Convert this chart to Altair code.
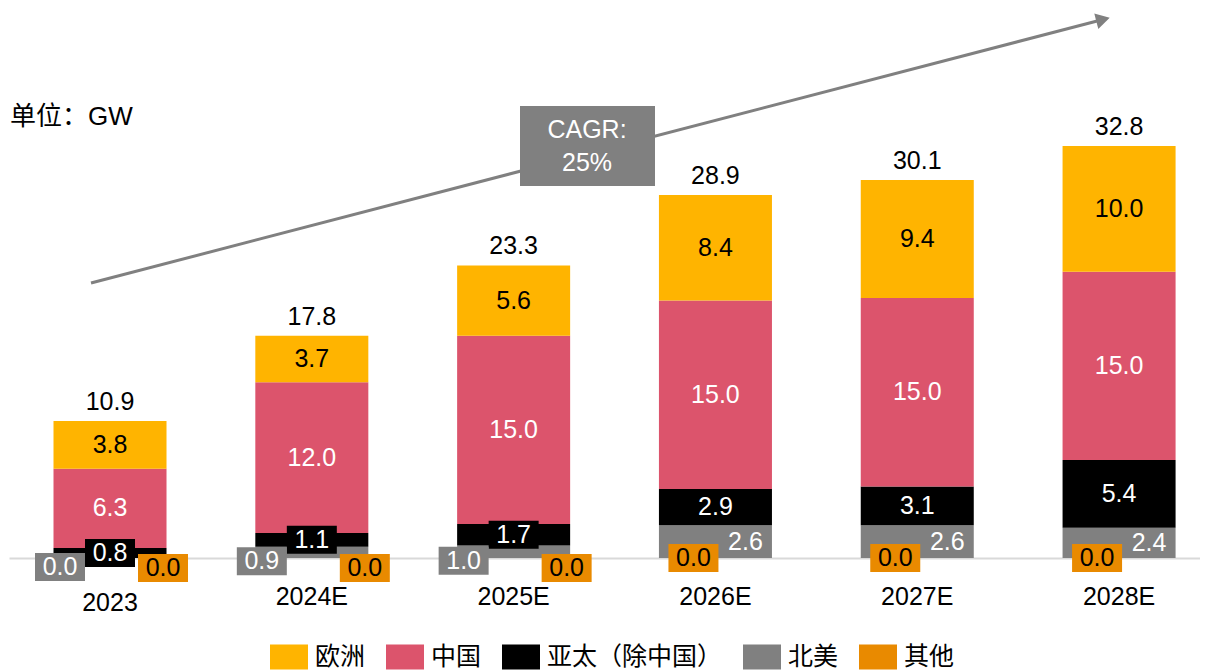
import altair as alt
import pandas as pd

# ---------------- data ----------------
years = ["2023", "2024E", "2025E", "2026E", "2027E", "2028E"]
legend_order = ["欧洲", "中国", "亚太（除中国）", "北美", "其他"]
colors = ["#FFB400", "#DC546C", "#000000", "#808080", "#E98A00"]

europe = [3.8, 3.7, 5.6, 8.4, 9.4, 10.0]
china = [6.3, 12.0, 15.0, 15.0, 15.0, 15.0]
apac = [0.8, 1.1, 1.7, 2.9, 3.1, 5.4]
north_america = [0.0, 0.9, 1.0, 2.6, 2.6, 2.4]
others = [0.0, 0.0, 0.0, 0.0, 0.0, 0.0]
totals = [10.9, 17.8, 23.3, 28.9, 30.1, 32.8]

unit_text = "单位：GW"
cagr_lines = ["CAGR:", "25%"]

# stacking order bottom -> top
stack = [("其他", others), ("北美", north_america), ("亚太（除中国）", apac),
         ("中国", china), ("欧洲", europe)]
rows = []
tops = []
for i, yr in enumerate(years):
    base = 0.0
    for name, vals in stack:
        v = vals[i]
        rows.append(dict(i=i, year=yr, series=name, value=v, y0=base,
                         y1=base + v, mid=base + v / 2, label=f"{v:.1f}"))
        base += v
    tops.append(base)
df = pd.DataFrame(rows)
tot = pd.DataFrame({"i": list(range(len(years))), "year": years,
                    "top": tops, "label": [f"{t:.1f}" for t in totals]})

# ---------------- styling ----------------
NUM_FONT = "Liberation Sans, Arial, Noto Sans CJK SC"
CJK_FONT = "Noto Sans CJK SC"
FS = 25
W, H = 1191, 540
xs = alt.Scale(domain=[-0.5005, 5.401], nice=False, zero=False)
ys = alt.Scale(domain=[0, 43], nice=False)
x_axis = alt.Axis(domain=True, domainColor="#D9D9D9", domainWidth=2,
                  ticks=False, labels=False, grid=False, title=None)


def X(field="i"):
    return alt.X(f"{field}:Q", scale=xs, axis=x_axis)


def Y(field):
    return alt.Y(f"{field}:Q", scale=ys, axis=None)


BOX = "M-1,-0.56H1V0.56H-1Z"
BOX_SIZE = 50 ** 2
one = pd.DataFrame({"a": [0]})

bars = alt.Chart(df).transform_calculate(
    xa="datum.i - 0.28", xb="datum.i + 0.28"
).mark_rect().encode(
    x=X("xa"), x2="xb:Q", y=Y("y0"), y2="y1:Q",
    color=alt.Color("series:N", scale=alt.Scale(domain=legend_order, range=colors),
                    legend=alt.Legend(orient="none", legendX=261, legendY=620,
                                      direction="horizontal", title=None,
                                      symbolType="M-1,-0.66H1V0.66H-1Z",
                                      symbolSize=1444, symbolStrokeWidth=0,
                                      symbolOpacity=1,
                                      labelFont=CJK_FONT, labelFontSize=FS,
                                      labelColor="#000000", labelOffset=7,
                                      labelLimit=400, columnPadding=20,
                                      padding=0)),
)


def box(expr, color, dx=0, dy=0):
    return alt.Chart(df).transform_filter(expr).mark_point(
        shape=BOX, size=BOX_SIZE, filled=True, opacity=1, color=color,
        strokeWidth=0, xOffset=dx, yOffset=dy
    ).encode(x=X(), y=Y("mid"))


def txt(expr, color, dx=0, dy=0):
    return alt.Chart(df).transform_filter(expr).mark_text(
        font=NUM_FONT, fontSize=FS, color=color, dx=dx, dy=dy,
        align="center", baseline="middle"
    ).encode(x=X(), y=Y("mid"), text="label:N")


layers = [
    bars,
    box("datum.series == '亚太（除中国）' && datum.value < 2", "#000000"),
    box("datum.series == '北美' && datum.value < 2", "#808080", -50, 9),
    box("datum.series == '其他' && datum.i < 3", "#E98A00", 53, 10),
    box("datum.series == '其他' && datum.i >= 3", "#E98A00", -22, 0),
    txt("datum.series == '欧洲'", "#000000"),
    txt("datum.series == '中国'", "#FFFFFF"),
    txt("datum.series == '亚太（除中国）'", "#FFFFFF"),
    txt("datum.series == '北美' && datum.value < 2", "#FFFFFF", -50, 9),
    txt("datum.series == '北美' && datum.value >= 2", "#FFFFFF", 30, 0),
    txt("datum.series == '其他' && datum.i < 3", "#000000", 53, 10),
    txt("datum.series == '其他' && datum.i >= 3", "#000000", -22, 0),
]

# totals above bars
totals_layer = alt.Chart(tot).mark_text(
    font=NUM_FONT, fontSize=FS, color="#000000", dy=-19, baseline="middle"
).encode(x=X(), y=Y("top"), text="label:N")

# category labels
xlab_first = alt.Chart(tot).transform_filter("datum.i == 0").transform_calculate(
    z="0").mark_text(font=NUM_FONT, fontSize=FS, color="#000000", dy=45,
                     baseline="middle").encode(x=X(), y=Y("z"), text="year:N")
xlab_rest = alt.Chart(tot).transform_filter("datum.i > 0").transform_calculate(
    z="0").mark_text(font=NUM_FONT, fontSize=FS, color="#000000", dy=39,
                     baseline="middle").encode(x=X(), y=Y("z"), text="year:N")

# annotations: unit label, CAGR arrow and box
unit = alt.Chart(one).mark_text(
    font=NUM_FONT, fontSize=26, color="#000000", align="left", baseline="middle"
).encode(x=alt.value(1), y=alt.value(99), text=alt.value(unit_text))

arrow_line = alt.Chart(one).mark_rule(color="#808080", strokeWidth=3).encode(
    x=alt.value(82), y=alt.value(265), x2=alt.value(1092), y2=alt.value(2))
arrow_head = alt.Chart(one).mark_point(
    shape="triangle-right", size=256, filled=True, opacity=1, color="#808080",
    strokeWidth=0, angle=345.4
).encode(x=alt.value(1094), y=alt.value(1.5))

cagr_box = alt.Chart(one).mark_point(
    shape="M-1,-0.593H1V0.593H-1Z", size=135 ** 2, filled=True, opacity=1,
    color="#808080", strokeWidth=0
).encode(x=alt.value(578.5), y=alt.value(128))
cagr_t1 = alt.Chart(one).mark_text(
    font=NUM_FONT, fontSize=FS, color="#FFFFFF", baseline="middle"
).encode(x=alt.value(578), y=alt.value(112), text=alt.value(cagr_lines[0]))
cagr_t2 = alt.Chart(one).mark_text(
    font=NUM_FONT, fontSize=FS, color="#FFFFFF", baseline="middle"
).encode(x=alt.value(578), y=alt.value(145), text=alt.value(cagr_lines[1]))

chart = alt.layer(
    *layers, totals_layer, xlab_first, xlab_rest, unit,
    arrow_line, arrow_head, cagr_box, cagr_t1, cagr_t2
).properties(
    width=W, height=H,
    padding={"left": 1, "top": 10, "right": 0, "bottom": 114},
    autosize=alt.AutoSizeParams(type="none"),
    background="#FFFFFF",
).configure_view(strokeWidth=0, stroke="transparent")

chart.save("out.html", embed_options={"renderer": "svg", "actions": False})
